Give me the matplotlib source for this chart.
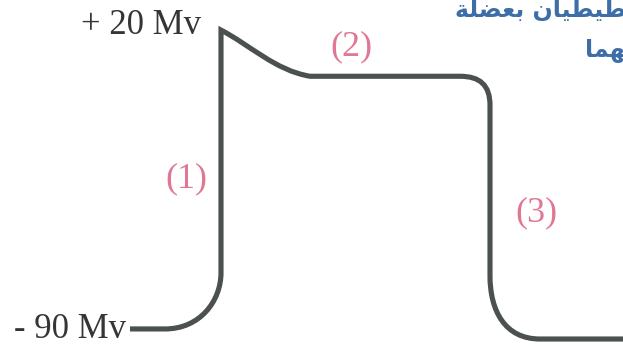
import matplotlib
matplotlib.use("Agg")
import matplotlib.pyplot as plt
from matplotlib.path import Path
from matplotlib.patches import PathPatch

# ---- data (time in arbitrary units, membrane potential in mV) ----
# path vertices of the action potential sketch (anchor + bezier control points)
time_pts = [130, 165, 200, 221, 221, 221, 221, 250, 275, 310, 460, 480, 490, 490, 490, 490, 505, 540, 623]
volt_pts = [-90, -90, -90, -79.7, -69.3, 20, 20, 14.5, 5.2, 3.0, 3.0, 3.0, -0.3, -7.7, -70.4, -83.4, -93.7, -93.7, -93.7]
seg_codes = ["M", "L", "C", "C", "C", "L", "L", "C", "C", "C", "L", "C", "C", "C", "L", "C", "C", "C", "L"]

level_labels = ["+ 20 Mv", "- 90 Mv"]
level_values = [20, -90]
phase_labels = ["(1)", "(2)", "(3)"]
phase_time = [186, 351, 536]
phase_volt = [-34.6, 13.7, -47.2]

arabic_lines = ["تخطيطيان بعضلة", "بينهما"]

# ---- minimal Arabic shaping for display (presentation forms, visual order) ----
FORMS = {
    "ا": ("\uFE8D", "\uFE8E", None, None),
    "ب": ("\uFE8F", "\uFE90", "\uFE91", "\uFE92"),
    "ة": ("\uFE93", "\uFE94", None, None),
    "ت": ("\uFE95", "\uFE96", "\uFE97", "\uFE98"),
    "خ": ("\uFEA5", "\uFEA6", "\uFEA7", "\uFEA8"),
    "ض": ("\uFEBD", "\uFEBE", "\uFEBF", "\uFEC0"),
    "ط": ("\uFEC1", "\uFEC2", "\uFEC3", "\uFEC4"),
    "ع": ("\uFEC9", "\uFECA", "\uFECB", "\uFECC"),
    "ل": ("\uFEDD", "\uFEDE", "\uFEDF", "\uFEE0"),
    "م": ("\uFEE1", "\uFEE2", "\uFEE3", "\uFEE4"),
    "ن": ("\uFEE5", "\uFEE6", "\uFEE7", "\uFEE8"),
    "ه": ("\uFEE9", "\uFEEA", "\uFEEB", "\uFEEC"),
    "ي": ("\uFEF1", "\uFEF2", "\uFEF3", "\uFEF4"),
}


def dual(c):
    return c in FORMS and FORMS[c][2] is not None


def shape(text):
    words = []
    for w in text.split(" "):
        out = []
        for i, c in enumerate(w):
            if c not in FORMS:
                out.append(c)
                continue
            jp = i > 0 and dual(w[i - 1])
            jn = i < len(w) - 1 and dual(c) and w[i + 1] in FORMS
            f = FORMS[c]
            if jp and jn:
                g = f[3]
            elif jp:
                g = f[1]
            elif jn:
                g = f[2]
            else:
                g = f[0]
            out.append(g)
        words.append("".join(out)[::-1])
    return " ".join(words[::-1])


# ---- figure ----
W, H = 623, 348
fig = plt.figure(figsize=(W / 100, H / 100), dpi=100)
ax = fig.add_axes([0, 0, 1, 1])
ax.set_xlim(0, W)
ax.set_ylim(-97.01, 31.07)
ax.axis("off")

code_map = {"M": Path.MOVETO, "L": Path.LINETO, "C": Path.CURVE4}
path = Path(list(zip(time_pts, volt_pts)), [code_map[c] for c in seg_codes])
ax.add_patch(PathPatch(path, facecolor="none", edgecolor="#4b5050",
                       lw=3.7, capstyle="butt", joinstyle="miter"))

serif = ["Liberation Serif", "DejaVu Serif"]
ax.text(201, level_values[0] + 1.8, level_labels[0], ha="right", va="center",
        fontsize=25, family=serif, color="#353535")
ax.text(126, level_values[1] - 0.3, level_labels[1], ha="right", va="center",
        fontsize=25, family=serif, color="#353535")

for lab, t, v in zip(phase_labels, phase_time, phase_volt):
    ax.text(t, v, lab, ha="center", va="center", fontsize=26,
            family=serif, color="#e07894")

ax.text(455, 24.8, shape(arabic_lines[0]), ha="left", va="baseline",
        fontsize=17, fontweight="bold", family=["DejaVu Sans"], color="#3d6ea8")
ax.text(585, 10.5, shape(arabic_lines[1]), ha="left", va="baseline",
        fontsize=17, fontweight="bold", family=["DejaVu Sans"], color="#3d6ea8")

fig.savefig("out.png", dpi=100)
